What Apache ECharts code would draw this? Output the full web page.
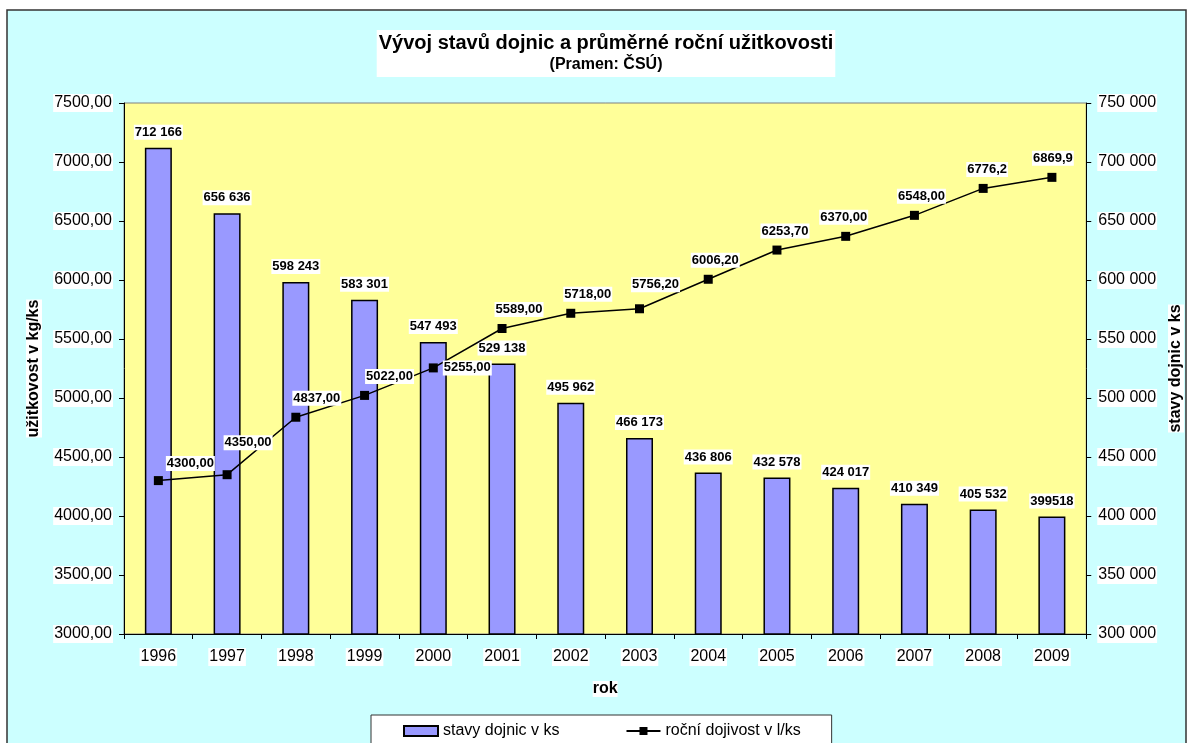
<!DOCTYPE html>
<html>
<head>
<meta charset="utf-8">
<title>Vývoj stavů dojnic</title>
<script src="https://cdn.jsdelivr.net/npm/echarts@6/dist/echarts.min.js"></script>
<style>
    html, body { margin: 0; padding: 0; background: #fff; }
    #main { width: 1192px; height: 743px; }
</style>
</head>
<body>
<div id="main"></div>
<script>
// data
var years = ['1996', '1997', '1998', '1999', '2000', '2001', '2002', '2003', '2004', '2005', '2006', '2007', '2008', '2009'];
var stavy = [712166, 656636, 598243, 583301, 547493, 529138, 495962, 466173, 436806, 432578, 424017, 410349, 405532, 399518];
var dojivost = [4300, 4350, 4837, 5022, 5255, 5589, 5718, 5756.2, 6006.2, 6253.7, 6370, 6548, 6776.2, 6869.9];
// label texts as printed on the chart
var stavyLabels = ['712 166', '656 636', '598 243', '583 301', '547 493', '529 138', '495 962', '466 173', '436 806', '432 578', '424 017', '410 349', '405 532', '399518'];
var dojivostLabels = ['4300,00', '4350,00', '4837,00', '5022,00', '5255,00', '5589,00', '5718,00', '5756,20', '6006,20', '6253,70', '6370,00', '6548,00', '6776,2', '6869,9'];

var font = "'Liberation Sans', Arial, sans-serif";

var myChart = echarts.init(document.getElementById('main'));

// posun popisku u jednotlivych bodu cary
var nudge = {
    0: [32, 2], 1: [21, -13], 2: [21, 0], 3: [25, 0],
    5: [17, 0], 6: [17, 0], 7: [16, -5], 8: [7, 0], 9: [8, 0],
    10: [-2, 0], 11: [7, 0], 12: [4, 0], 13: [1, 0]
};

var lineData = dojivost.map(function (v, i) {
    var item = { value: v, label: { formatter: dojivostLabels[i] } };
    if (i === 4) {
        item.label.position = 'right';
        item.label.distance = 5;
    } else if (nudge[i]) {
        item.label.offset = nudge[i];
    }
    return item;
});

var barData = stavy.map(function (v, i) {
    return { value: v, label: { formatter: stavyLabels[i] } };
});

var option = {
    backgroundColor: '#ffffff',
    textStyle: { fontFamily: font },
    graphic: [
        {
            type: 'rect',
            z: -100,
            shape: { x: 7, y: 10, width: 1179, height: 800 },
            style: { fill: '#CCFFFF', stroke: '#333333', lineWidth: 1.5 }
        }
    ],
    title: {
        text: 'Vývoj stavů dojnic a průměrné roční užitkovosti',
        subtext: '(Pramen: ČSÚ)',
        left: 604,
        top: 30,
        backgroundColor: '#ffffff',
        padding: [3, 2, 4, 2],
        itemGap: 4,
        textAlign: 'center',
        textStyle: { fontFamily: font, fontSize: 20, fontWeight: 'bold', color: '#000' },
        subtextStyle: { fontFamily: font, fontSize: 16, fontWeight: 'bold', color: '#000' }
    },
    legend: {
        left: 371,
        top: 715,
        backgroundColor: '#ffffff',
        borderColor: '#333333',
        borderWidth: 1,
        borderRadius: 0,
        padding: [8, 31, 12, 32],
        itemGap: 66,
        itemWidth: 34,
        itemHeight: 10,
        textStyle: { fontFamily: font, fontSize: 16, color: '#000' },
        data: [
            { name: 'stavy dojnic v ks', icon: 'rect' },
            { name: 'roční dojivost v l/ks' }
        ]
    },
    grid: {
        left: 124,
        right: 105,
        top: 103,
        bottom: 109,
        show: true,
        backgroundColor: '#FFFF99',
        borderColor: '#808080',
        borderWidth: 1
    },
    xAxis: {
        type: 'category',
        data: years,
        name: 'rok',
        nameLocation: 'middle',
        nameGap: 47,
        nameTextStyle: { fontFamily: font, fontSize: 16, fontWeight: 'bold', color: '#000', backgroundColor: '#fff' },
        axisLine: { lineStyle: { color: '#000', width: 1 } },
        axisTick: { show: true, length: 5, lineStyle: { color: '#000' } },
        axisLabel: { fontFamily: font, fontSize: 16, color: '#000', margin: 14, backgroundColor: '#fff', padding: [1, 1] },
        splitLine: { show: false }
    },
    yAxis: [
        {
            type: 'value',
            position: 'left',
            min: 3000,
            max: 7500,
            interval: 500,
            name: 'užitkovost v kg/ks',
            nameLocation: 'middle',
            nameRotate: 90,
            nameGap: 82,
            nameTextStyle: { fontFamily: font, fontSize: 16, fontWeight: 'bold', color: '#000', backgroundColor: '#fff' },
            axisLine: { show: true, lineStyle: { color: '#000', width: 1 } },
            axisTick: { show: true, length: 5, lineStyle: { color: '#000' } },
            axisLabel: {
                fontFamily: font, fontSize: 16, color: '#000', margin: 11,
                backgroundColor: '#fff', padding: [1, 1],
                formatter: function (v) { return v.toFixed(2).replace('.', ','); }
            },
            splitLine: { show: false }
        },
        {
            type: 'value',
            position: 'right',
            min: 300000,
            max: 750000,
            interval: 50000,
            name: 'stavy dojnic v ks',
            nameLocation: 'middle',
            nameRotate: 90,
            nameGap: 80,
            nameTextStyle: { fontFamily: font, fontSize: 16, fontWeight: 'bold', color: '#000', backgroundColor: '#fff' },
            axisLine: { show: true, lineStyle: { color: '#000', width: 1 } },
            axisTick: { show: true, length: 5, lineStyle: { color: '#000' } },
            axisLabel: {
                fontFamily: font, fontSize: 16, color: '#000', margin: 11,
                backgroundColor: '#fff', padding: [1, 1],
                formatter: function (v) { return String(v).replace(/\B(?=(\d{3})+(?!\d))/g, ' '); }
            },
            splitLine: { show: false }
        }
    ],
    series: [
        {
            name: 'stavy dojnic v ks',
            type: 'bar',
            yAxisIndex: 1,
            barWidth: 27,
            itemStyle: { color: '#9999FF', borderColor: '#000', borderWidth: 1.5 },
            label: {
                show: true,
                position: 'top',
                distance: 8,
                fontFamily: font,
                fontSize: 13,
                fontWeight: 'bold',
                color: '#000',
                backgroundColor: '#fff',
                padding: [1, 1]
            },
            data: barData
        },
        {
            name: 'roční dojivost v l/ks',
            type: 'line',
            yAxisIndex: 0,
            symbol: 'rect',
            symbolSize: 9,
            itemStyle: { color: '#000' },
            lineStyle: { color: '#000', width: 1.5 },
            label: {
                show: true,
                position: 'top',
                distance: 7,
                fontFamily: font,
                fontSize: 13,
                fontWeight: 'bold',
                color: '#000',
                backgroundColor: '#fff',
                padding: [1, 1]
            },
            data: lineData,
            z: 3
        }
    ]
};

myChart.setOption(option);
</script>
</body>
</html>
